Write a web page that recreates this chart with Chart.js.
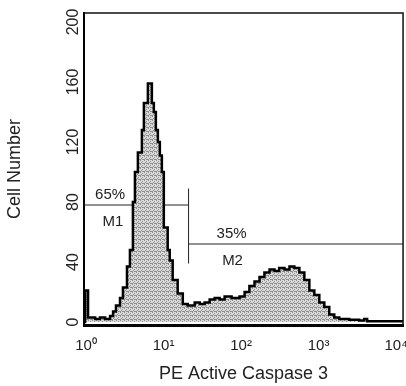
<!DOCTYPE html>
<html>
<head>
<meta charset="utf-8">
<script src="https://cdn.jsdelivr.net/npm/chart.js@4"></script>
<style>
  body { margin: 0; background: #fff; overflow: hidden; }
</style>
</head>
<body>
<canvas id="myChart" width="420" height="386"></canvas>
<script>
// histogram: left edge of each channel bin and the number of cells in it
const binStart = [0.94, 0.97, 1.06, 1.31, 1.51, 1.76, 2.04, 2.23, 2.43, 2.74, 2.99, 3.37, 3.68, 4.02, 4.27,
  4.66, 5.25, 5.57, 6.27, 7.06, 7.49, 7.95, 8.44, 8.95, 9.5, 10.07, 11.3, 12.0, 13.1, 15.2, 17.7, 20.5,
  25.2, 29.3, 33.9, 39.3, 45.6, 52.9, 61.3, 75.5, 95.6, 111, 128, 149, 173, 200, 233, 270, 310, 363, 421,
  487, 565, 655, 760, 881, 1022, 1185, 1374, 1594, 1848, 2486, 3343, 3875, 4236, 12300];
const cellCount = [0, 21, 3, 2, 3, 2, 4, 7, 11, 16, 23, 37, 48, 80, 100,
  113, 128, 146, 159, 146, 140, 128, 120, 111, 100, 63, 48, 41, 28, 19, 12, 11,
  13, 12, 13, 15, 16, 15, 17, 16, 17, 20, 24, 27, 30, 33, 35, 34, 36, 35, 37,
  36, 33, 28, 21, 18, 13, 10, 5, 3, 2, 1.5, 1, 2, 0.5, 0.5];

// marker gates
const gateSplit = 21;
const m1Level = 78;
const m2Level = 52;
const gateTick = [39, 89];
const gateText = [
  { text: "65%", x: 2.04, y: 85 },
  { text: "M1", x: 2.22, y: 67 },
  { text: "35%", x: 75.5, y: 59 },
  { text: "M2", x: 77.6, y: 41 },
];

const xMin = 0.94;
const xMax = 12300;
const decadeTicks = [1, 10, 100, 1000, 10000];
const decadeLabels = ["10\u2070", "10\u00b9", "10\u00b2", "10\u00b3", "10\u2074"];
const countTicks = [0, 40, 80, 120, 160, 200];

const font = "'Liberation Sans', Arial, sans-serif";

// grey stipple like the scanned fill
function stipple() {
  const c = document.createElement("canvas");
  c.width = 4;
  c.height = 4;
  const g = c.getContext("2d");
  g.fillStyle = "#dcdcdc";
  g.fillRect(0, 0, 4, 4);
  g.fillStyle = "#8c8c8c";
  [[0, 0], [2, 1], [1, 2], [3, 3], [0, 3], [2, 3]].forEach(([x, y]) => g.fillRect(x, y, 1, 1));
  return g.createPattern(c, "repeat");
}

const frame = {
  id: "frame",
  afterDatasetsDraw(chart) {
    const { ctx, chartArea: a } = chart;
    ctx.save();
    ctx.strokeStyle = "#111";
    ctx.lineWidth = 1.5;
    ctx.beginPath();
    ctx.moveTo(a.left, a.top);
    ctx.lineTo(a.right, a.top);
    ctx.lineTo(a.right, a.bottom);
    ctx.stroke();

    const xs = chart.scales.x;
    const ys = chart.scales.y;
    ctx.fillStyle = "#222";
    ctx.font = "15px " + font;
    ctx.textAlign = "center";
    ctx.textBaseline = "middle";
    gateText.forEach((t) => {
      ctx.fillText(t.text, xs.getPixelForValue(t.x), ys.getPixelForValue(t.y));
    });
    ctx.restore();
  },
};

const points = binStart.map((x, i) => ({ x: x, y: cellCount[i] }));

new Chart("myChart", {
  type: "line",
  data: {
    datasets: [
      {
        data: points,
        stepped: true,
        borderColor: "#000",
        borderWidth: 2.5,
        backgroundColor: stipple(),
        fill: "origin",
        pointRadius: 0,
      },
      {
        data: [{ x: xMin, y: m1Level }, { x: gateSplit, y: m1Level }],
        borderColor: "#222",
        borderWidth: 1,
        pointRadius: 0,
        fill: false,
      },
      {
        data: [{ x: gateSplit, y: m2Level }, { x: xMax, y: m2Level }],
        borderColor: "#222",
        borderWidth: 1,
        pointRadius: 0,
        fill: false,
      },
      {
        data: [{ x: gateSplit, y: gateTick[0] }, { x: gateSplit, y: gateTick[1] }],
        borderColor: "#222",
        borderWidth: 1,
        pointRadius: 0,
        fill: false,
      },
    ],
  },
  options: {
    responsive: false,
    animation: false,
    layout: { padding: { top: 13, right: 16 } },
    plugins: {
      legend: { display: false },
      tooltip: { enabled: false },
    },
    scales: {
      x: {
        type: "logarithmic",
        min: xMin,
        max: xMax,
        afterBuildTicks: (s) => {
          s.ticks = decadeTicks.map((v) => ({ value: v }));
        },
        afterFit: (s) => {
          s.height = 61;
        },
        grid: { display: false, drawTicks: false },
        border: { color: "#000", width: 3 },
        ticks: {
          callback: (v, i) => decadeLabels[i],
          autoSkip: false,
          maxRotation: 0,
          padding: 12,
          color: "#222",
          font: { family: font, size: 15 },
        },
        title: {
          display: true,
          text: "PE Active Caspase 3",
          color: "#222",
          padding: { top: 0, bottom: 1 },
          font: { family: font, size: 18 },
        },
      },
      y: {
        min: -2,
        max: 206,
        afterBuildTicks: (s) => {
          s.ticks = countTicks.map((v) => ({ value: v }));
        },
        afterFit: (s) => {
          s.width = 84;
        },
        grid: { display: false, drawTicks: false },
        border: { color: "#000", width: 2 },
        ticks: {
          minRotation: 90,
          maxRotation: 90,
          crossAlign: "center",
          padding: -3,
          color: "#222",
          font: { family: font, size: 16 },
        },
        title: {
          display: true,
          text: "Cell Number",
          color: "#222",
          padding: { top: 4, bottom: 0 },
          font: { family: font, size: 18 },
        },
      },
    },
  },
  plugins: [frame],
});
</script>
</body>
</html>
